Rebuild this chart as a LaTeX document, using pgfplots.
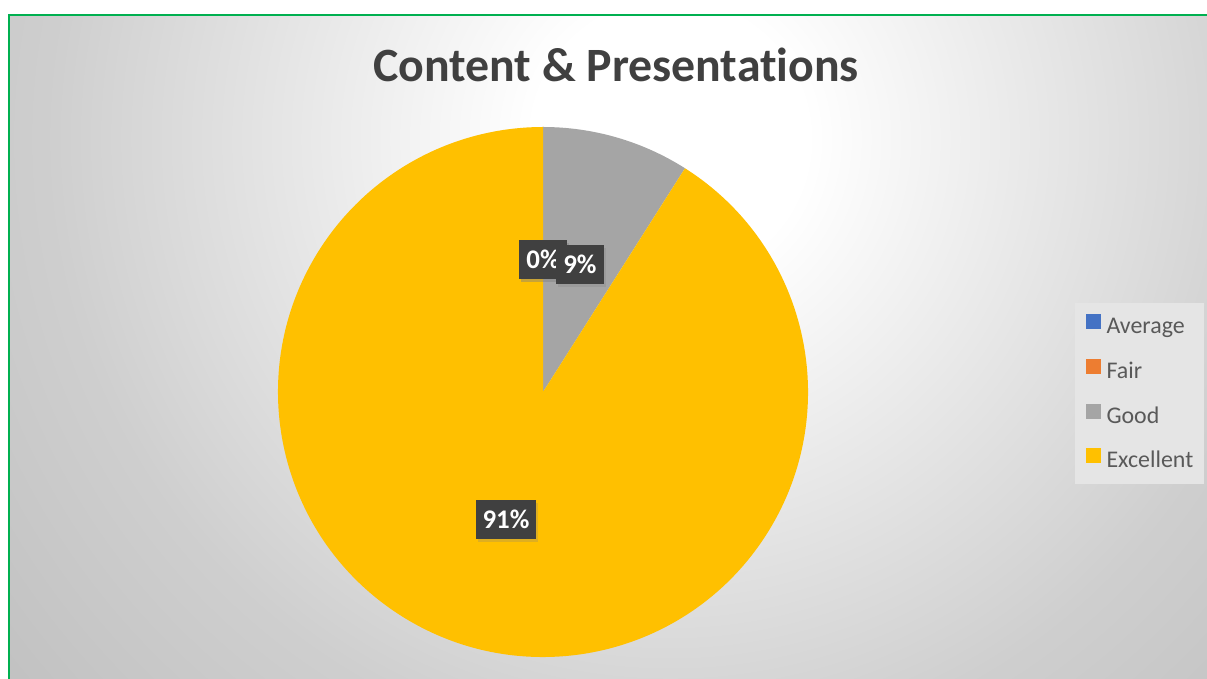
\documentclass[border=0pt]{standalone}
\usepackage{pgfplots}
\pgfplotsset{compat=1.18}
\usepackage{pgfplotstable}
\usepackage{fontspec}
\setmainfont{Carlito}[Ligatures=NoCommon]
\usetikzlibrary{shadows}

% slice colours, named after the categories
\definecolor{Average}{HTML}{4472C4}
\definecolor{Fair}{HTML}{ED7D31}
\definecolor{Good}{HTML}{A5A5A5}
\definecolor{Excellent}{HTML}{FFC000}
\definecolor{titlegray}{HTML}{404040}
\definecolor{legendgray}{HTML}{595959}
\definecolor{labelbox}{HTML}{404040}
\definecolor{frame}{HTML}{00B050}

% circular background gradient, 25bp = 900px (half of the shaded square)
\pgfdeclareradialshading{chartbg}{\pgfpoint{0bp}{0bp}}{%
  color(0bp)=(white); color(3.8bp)=(white);
  color(12.2bp)=(white!88!black); color(17.2bp)=(white!81!black);
  color(23.6bp)=(white!76!black); color(25bp)=(white!75!black);
  color(50bp)=(white!75!black)}

% share of ratings (%), clockwise from 12 o'clock
\pgfplotstableread{
label value
Average 0
Fair 0
Good 9
Excellent 91
}\piedata

\tikzset{pielabel/.style={fill=labelbox, text=white,
    font=\bfseries\fontsize{27}{30}\selectfont,
    inner xsep=7bp, inner ysep=0pt, minimum height=39bp,
    drop shadow={opacity=0.25, shadow xshift=2bp, shadow yshift=-3bp}}}

\begin{document}
\begin{tikzpicture}[x=1bp,y=1bp]
\useasboundingbox (0,0) rectangle (1207,679);
\begin{scope}
  \clip (9,-6) rectangle (1216,664);
  \shade[shading=chartbg] (670-900,540-900) rectangle (670+900,540+900);
\end{scope}
\draw[frame, line width=2.5bp] (9,-6) rectangle (1216,664);

\begin{axis}[
    x=1bp, y=1bp,
    xmin=0, xmax=1207, ymin=0, ymax=679,
    scale only axis, hide axis, clip=false,
    at={(0,0)}, anchor=origin,
    legend style={at={(0.8906,0.5538)}, anchor=north west,
        fill=white!90!black, draw=none,
        inner xsep=11bp, inner ysep=11bp,
        row sep=20bp, column sep=6bp,
        font=\fontsize{24}{26}\selectfont, text=legendgray,
        nodes={inner sep=0pt, text height=16bp, text depth=5bp}},
    legend cell align=left,
    legend image code/.code={\fill[#1] (0bp,0bp) rectangle (14bp,14bp);},
]
\def\cx{543}\def\cy{287}\def\R{265}
\pgfmathsetmacro\angStart{90}
\pgfplotsforeachungrouped \i in {0,...,3}{%
    \pgfplotstablegetelem{\i}{label}\of\piedata
    \let\col\pgfplotsretval
    \pgfplotstablegetelem{\i}{value}\of\piedata
    \let\val\pgfplotsretval
    \pgfmathsetmacro\angEnd{\angStart-3.6*\val}
    \pgfmathsetmacro\xa{\cx+\R*cos(\angStart)}
    \pgfmathsetmacro\ya{\cy+\R*sin(\angStart)}
    \edef\slice{%
        \noexpand\fill[\col] (axis cs:\cx,\cy) -- (axis cs:\xa,\ya)
            arc[start angle=\angStart, end angle=\angEnd, radius=\R bp] -- cycle;}
    \slice
    \let\angStart\angEnd
}
% labels after all slices, in the same order
\pgfmathsetmacro\angStart{90}
\pgfplotsforeachungrouped \i in {0,...,3}{%
    \pgfplotstablegetelem{\i}{value}\of\piedata
    \let\val\pgfplotsretval
    \pgfmathsetmacro\angEnd{\angStart-3.6*\val}
    \pgfmathsetmacro\angMid{(\angStart+\angEnd)/2}
    \pgfmathsetmacro\lx{\cx+0.5*\R*cos(\angMid)}
    \pgfmathsetmacro\ly{\cy+0.5*\R*sin(\angMid)}
    \pgfmathtruncatemacro\pct{round(\val)}
    \edef\lab{\noexpand\node[pielabel] at (axis cs:\lx,\ly) {\pct\noexpand\%};}
    \lab
    \let\angStart\angEnd
}
\addlegendimage{Average}\addlegendentry{Average}
\addlegendimage{Fair}\addlegendentry{Fair}
\addlegendimage{Good}\addlegendentry{Good}
\addlegendimage{Excellent}\addlegendentry{Excellent}
\end{axis}

\node[anchor=base, text=titlegray, font=\bfseries\fontsize{48}{52}\selectfont]
    at (616,597) {Content \& Presentations};
\end{tikzpicture}
\end{document}
